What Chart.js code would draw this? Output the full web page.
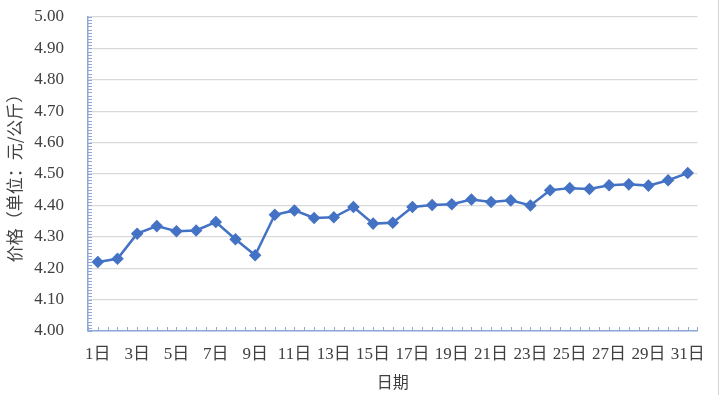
<!DOCTYPE html>
<html><head><meta charset="utf-8">
<script src="https://cdn.jsdelivr.net/npm/chart.js@4/dist/chart.umd.min.js"></script>
<style>
html,body{margin:0;padding:0;background:#fff;}
#wrap{position:relative;width:718px;height:395px;border-right:1px solid #d4d4d4;}
</style></head>
<body>
<div id="wrap"><canvas id="c" width="718" height="395"></canvas></div>
<script>
const days = Array.from({length:31},(_,i)=> (i+1)+'日');
const prices = [4.22,4.23,4.31,4.334,4.318,4.32,4.347,4.292,4.241,4.37,4.384,4.36,4.362,4.395,4.342,4.345,4.395,4.401,4.404,4.419,4.411,4.416,4.40,4.448,4.455,4.452,4.464,4.467,4.463,4.48,4.503];
const yTitle = '价格（单位：元/公斤）';
const xTitle = '日期';
const yMin = 4.0, yMax = 5.0, yStep = 0.1;

const axisColor = '#8FA8DA';
const fontFam = "'Liberation Serif','Noto Sans CJK SC',serif";

const minorTicks = {
  id:'minorTicks',
  afterDraw(chart){
    const ctx = chart.ctx, y = chart.scales.y, x = chart.scales.x;
    const a = chart.chartArea;
    ctx.save();
    ctx.strokeStyle = axisColor; ctx.lineWidth = 1;
    ctx.beginPath();
    for(let k=0;k<=100;k++){
      const py = Math.round(y.getPixelForValue(yMin + k*0.01))+0.5;
      ctx.moveTo(a.left, py); ctx.lineTo(a.left+4, py);
    }
    const half = (x.getPixelForValue(1)-x.getPixelForValue(0))/2;
    for(let i=0;i<days.length;i++){
      const c = x.getPixelForValue(i);
      [c-half, c].forEach(px=>{ const p=Math.round(px)+0.5; ctx.moveTo(p,a.bottom); ctx.lineTo(p,a.bottom-4); });
    }
    const p=Math.round(a.right)-0.5; ctx.moveTo(p,a.bottom); ctx.lineTo(p,a.bottom-4);
    ctx.stroke();
    ctx.restore();
  }
};

new Chart(document.getElementById('c'),{
  type:'line',
  data:{labels:days,datasets:[{
    data:prices,
    borderColor:'#4472C4',backgroundColor:'#4472C4',
    borderWidth:2.5,pointStyle:'rectRot',pointRadius:4.5,
    pointBackgroundColor:'#4472C4',pointBorderColor:'#4472C4',
    tension:0
  }]},
  options:{
    responsive:false,animation:false,
    layout:{padding:{left:4,right:16,top:17,bottom:0}},
    plugins:{legend:{display:false},tooltip:{enabled:false}},
    scales:{
      x:{
        offset:true,
        grid:{display:false,drawTicks:false},
        border:{display:true,color:axisColor,width:1.5},
        ticks:{autoSkip:false,maxRotation:0,padding:13,color:'#404040',
          font:{family:fontFam,size:17},
          callback:(v,i)=> i%2===0 ? days[i] : ''},
        title:{display:true,text:xTitle,color:'#404040',font:{family:"'Noto Sans CJK SC'",size:16},padding:{top:0,bottom:3}},
        afterFit(s){ s.height = 64; }
      },
      y:{
        min:yMin,max:yMax,
        grid:{color:'#D9D9D9',lineWidth:1.2,drawTicks:false},
        border:{display:true,color:axisColor,width:1.5},
        ticks:{stepSize:yStep,padding:24,color:'#404040',font:{family:fontFam,size:17},
          callback:v=>v.toFixed(2)},
        title:{display:true,text:yTitle,color:'#404040',font:{family:"'Noto Sans CJK SC'",size:17},padding:{top:0,bottom:1}},
        afterFit(s){ s.width = 84; s.paddingTop = 0; s.paddingBottom = 0; }
      }
    }
  },
  plugins:[minorTicks]
});
</script>
</body></html>
